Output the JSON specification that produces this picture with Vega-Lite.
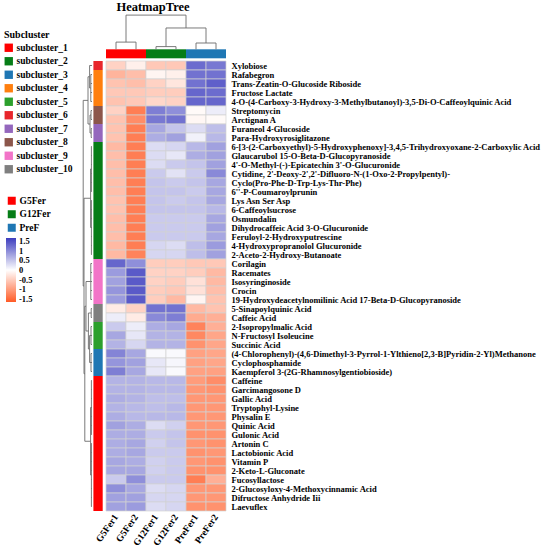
{
"$schema": "https://vega.github.io/schema/vega-lite/v6.json",
"width": 120, "height": 450,
"autosize": {"type": "none"},
"padding": {"left": 106, "top": 61, "right": 324, "bottom": 40},
"background": "white",
"config": {"view": {"stroke": null}, "font": "Liberation Serif"},
"title": {"text": "HeatmapTree", "font": "Liberation Serif", "fontSize": 12.5, "fontWeight": "bold", "frame": "group", "anchor": "middle", "dx": -13, "offset": 1, "color": "black"},
"datasets": {
"cells": [
{"compound":"Xylobiose","sample":"G5Fer1","value":-0.45},{"compound":"Xylobiose","sample":"G5Fer2","value":-0.15},{"compound":"Xylobiose","sample":"G12Fer1","value":-0.55},{"compound":"Xylobiose","sample":"G12Fer2","value":-0.55},{"compound":"Xylobiose","sample":"PreFer1","value":1.25},{"compound":"Xylobiose","sample":"PreFer2","value":1.15},
{"compound":"Rafabegron","sample":"G5Fer1","value":-0.75},{"compound":"Rafabegron","sample":"G5Fer2","value":-0.65},{"compound":"Rafabegron","sample":"G12Fer1","value":-0.1},{"compound":"Rafabegron","sample":"G12Fer2","value":-0.15},{"compound":"Rafabegron","sample":"PreFer1","value":1.2},{"compound":"Rafabegron","sample":"PreFer2","value":1.2},
{"compound":"Trans-Zeatin-O-Glucoside Riboside","sample":"G5Fer1","value":-0.6},{"compound":"Trans-Zeatin-O-Glucoside Riboside","sample":"G5Fer2","value":-0.65},{"compound":"Trans-Zeatin-O-Glucoside Riboside","sample":"G12Fer1","value":-0.45},{"compound":"Trans-Zeatin-O-Glucoside Riboside","sample":"G12Fer2","value":-0.25},{"compound":"Trans-Zeatin-O-Glucoside Riboside","sample":"PreFer1","value":1.2},{"compound":"Trans-Zeatin-O-Glucoside Riboside","sample":"PreFer2","value":1.35},
{"compound":"Fructose Lactate","sample":"G5Fer1","value":-0.55},{"compound":"Fructose Lactate","sample":"G5Fer2","value":-0.55},{"compound":"Fructose Lactate","sample":"G12Fer1","value":-0.5},{"compound":"Fructose Lactate","sample":"G12Fer2","value":-0.5},{"compound":"Fructose Lactate","sample":"PreFer1","value":1.3},{"compound":"Fructose Lactate","sample":"PreFer2","value":1.25},
{"compound":"4-O-(4-Carboxy-3-Hydroxy-3-Methylbutanoyl)-3,5-Di-O-Caffeoylquinic Acid","sample":"G5Fer1","value":-0.6},{"compound":"4-O-(4-Carboxy-3-Hydroxy-3-Methylbutanoyl)-3,5-Di-O-Caffeoylquinic Acid","sample":"G5Fer2","value":-0.55},{"compound":"4-O-(4-Carboxy-3-Hydroxy-3-Methylbutanoyl)-3,5-Di-O-Caffeoylquinic Acid","sample":"G12Fer1","value":-0.4},{"compound":"4-O-(4-Carboxy-3-Hydroxy-3-Methylbutanoyl)-3,5-Di-O-Caffeoylquinic Acid","sample":"G12Fer2","value":-0.45},{"compound":"4-O-(4-Carboxy-3-Hydroxy-3-Methylbutanoyl)-3,5-Di-O-Caffeoylquinic Acid","sample":"PreFer1","value":1.3},{"compound":"4-O-(4-Carboxy-3-Hydroxy-3-Methylbutanoyl)-3,5-Di-O-Caffeoylquinic Acid","sample":"PreFer2","value":1.3},
{"compound":"Streptomycin","sample":"G5Fer1","value":-0.45},{"compound":"Streptomycin","sample":"G5Fer2","value":-1.3},{"compound":"Streptomycin","sample":"G12Fer1","value":1.1},{"compound":"Streptomycin","sample":"G12Fer2","value":0.95},{"compound":"Streptomycin","sample":"PreFer1","value":-0.05},{"compound":"Streptomycin","sample":"PreFer2","value":0.15},
{"compound":"Arctignan A","sample":"G5Fer1","value":-0.6},{"compound":"Arctignan A","sample":"G5Fer2","value":-1.15},{"compound":"Arctignan A","sample":"G12Fer1","value":1.15},{"compound":"Arctignan A","sample":"G12Fer2","value":1.2},{"compound":"Arctignan A","sample":"PreFer1","value":-0.08},{"compound":"Arctignan A","sample":"PreFer2","value":-0.05},
{"compound":"Furaneol 4-Glucoside","sample":"G5Fer1","value":-0.6},{"compound":"Furaneol 4-Glucoside","sample":"G5Fer2","value":-1.3},{"compound":"Furaneol 4-Glucoside","sample":"G12Fer1","value":0.75},{"compound":"Furaneol 4-Glucoside","sample":"G12Fer2","value":0.5},{"compound":"Furaneol 4-Glucoside","sample":"PreFer1","value":0.3},{"compound":"Furaneol 4-Glucoside","sample":"PreFer2","value":0.55},
{"compound":"Para-Hydroxyrosiglitazone","sample":"G5Fer1","value":-0.6},{"compound":"Para-Hydroxyrosiglitazone","sample":"G5Fer2","value":-1.3},{"compound":"Para-Hydroxyrosiglitazone","sample":"G12Fer1","value":0.7},{"compound":"Para-Hydroxyrosiglitazone","sample":"G12Fer2","value":0.8},{"compound":"Para-Hydroxyrosiglitazone","sample":"PreFer1","value":0.12},{"compound":"Para-Hydroxyrosiglitazone","sample":"PreFer2","value":0.6},
{"compound":"6-[3-(2-Carboxyethyl)-5-Hydroxyphenoxy]-3,4,5-Trihydroxyoxane-2-Carboxylic Acid","sample":"G5Fer1","value":-0.7},{"compound":"6-[3-(2-Carboxyethyl)-5-Hydroxyphenoxy]-3,4,5-Trihydroxyoxane-2-Carboxylic Acid","sample":"G5Fer2","value":-1.3},{"compound":"6-[3-(2-Carboxyethyl)-5-Hydroxyphenoxy]-3,4,5-Trihydroxyoxane-2-Carboxylic Acid","sample":"G12Fer1","value":0.3},{"compound":"6-[3-(2-Carboxyethyl)-5-Hydroxyphenoxy]-3,4,5-Trihydroxyoxane-2-Carboxylic Acid","sample":"G12Fer2","value":0.35},{"compound":"6-[3-(2-Carboxyethyl)-5-Hydroxyphenoxy]-3,4,5-Trihydroxyoxane-2-Carboxylic Acid","sample":"PreFer1","value":0.6},{"compound":"6-[3-(2-Carboxyethyl)-5-Hydroxyphenoxy]-3,4,5-Trihydroxyoxane-2-Carboxylic Acid","sample":"PreFer2","value":0.8},
{"compound":"Glaucarubol 15-O-Beta-D-Glucopyranoside","sample":"G5Fer1","value":-0.65},{"compound":"Glaucarubol 15-O-Beta-D-Glucopyranoside","sample":"G5Fer2","value":-1.3},{"compound":"Glaucarubol 15-O-Beta-D-Glucopyranoside","sample":"G12Fer1","value":0.3},{"compound":"Glaucarubol 15-O-Beta-D-Glucopyranoside","sample":"G12Fer2","value":0.2},{"compound":"Glaucarubol 15-O-Beta-D-Glucopyranoside","sample":"PreFer1","value":0.7},{"compound":"Glaucarubol 15-O-Beta-D-Glucopyranoside","sample":"PreFer2","value":0.8},
{"compound":"4'-O-Methyl-(-)-Epicatechin 3'-O-Glucuronide","sample":"G5Fer1","value":-0.65},{"compound":"4'-O-Methyl-(-)-Epicatechin 3'-O-Glucuronide","sample":"G5Fer2","value":-1.3},{"compound":"4'-O-Methyl-(-)-Epicatechin 3'-O-Glucuronide","sample":"G12Fer1","value":0.3},{"compound":"4'-O-Methyl-(-)-Epicatechin 3'-O-Glucuronide","sample":"G12Fer2","value":0.45},{"compound":"4'-O-Methyl-(-)-Epicatechin 3'-O-Glucuronide","sample":"PreFer1","value":0.5},{"compound":"4'-O-Methyl-(-)-Epicatechin 3'-O-Glucuronide","sample":"PreFer2","value":0.8},
{"compound":"Cytidine, 2'-Deoxy-2',2'-Difluoro-N-(1-Oxo-2-Propylpentyl)-","sample":"G5Fer1","value":-0.65},{"compound":"Cytidine, 2'-Deoxy-2',2'-Difluoro-N-(1-Oxo-2-Propylpentyl)-","sample":"G5Fer2","value":-1.3},{"compound":"Cytidine, 2'-Deoxy-2',2'-Difluoro-N-(1-Oxo-2-Propylpentyl)-","sample":"G12Fer1","value":0.45},{"compound":"Cytidine, 2'-Deoxy-2',2'-Difluoro-N-(1-Oxo-2-Propylpentyl)-","sample":"G12Fer2","value":0.25},{"compound":"Cytidine, 2'-Deoxy-2',2'-Difluoro-N-(1-Oxo-2-Propylpentyl)-","sample":"PreFer1","value":0.45},{"compound":"Cytidine, 2'-Deoxy-2',2'-Difluoro-N-(1-Oxo-2-Propylpentyl)-","sample":"PreFer2","value":1.0},
{"compound":"Cyclo(Pro-Phe-D-Trp-Lys-Thr-Phe)","sample":"G5Fer1","value":-0.65},{"compound":"Cyclo(Pro-Phe-D-Trp-Lys-Thr-Phe)","sample":"G5Fer2","value":-1.3},{"compound":"Cyclo(Pro-Phe-D-Trp-Lys-Thr-Phe)","sample":"G12Fer1","value":0.5},{"compound":"Cyclo(Pro-Phe-D-Trp-Lys-Thr-Phe)","sample":"G12Fer2","value":0.45},{"compound":"Cyclo(Pro-Phe-D-Trp-Lys-Thr-Phe)","sample":"PreFer1","value":0.5},{"compound":"Cyclo(Pro-Phe-D-Trp-Lys-Thr-Phe)","sample":"PreFer2","value":0.75},
{"compound":"6''-P-Coumaroylprunin","sample":"G5Fer1","value":-0.65},{"compound":"6''-P-Coumaroylprunin","sample":"G5Fer2","value":-1.3},{"compound":"6''-P-Coumaroylprunin","sample":"G12Fer1","value":0.5},{"compound":"6''-P-Coumaroylprunin","sample":"G12Fer2","value":0.5},{"compound":"6''-P-Coumaroylprunin","sample":"PreFer1","value":0.45},{"compound":"6''-P-Coumaroylprunin","sample":"PreFer2","value":0.75},
{"compound":"Lys Asn Ser Asp","sample":"G5Fer1","value":-0.6},{"compound":"Lys Asn Ser Asp","sample":"G5Fer2","value":-1.3},{"compound":"Lys Asn Ser Asp","sample":"G12Fer1","value":0.5},{"compound":"Lys Asn Ser Asp","sample":"G12Fer2","value":0.45},{"compound":"Lys Asn Ser Asp","sample":"PreFer1","value":0.5},{"compound":"Lys Asn Ser Asp","sample":"PreFer2","value":0.75},
{"compound":"6-Caffeoylsucrose","sample":"G5Fer1","value":-0.6},{"compound":"6-Caffeoylsucrose","sample":"G5Fer2","value":-1.3},{"compound":"6-Caffeoylsucrose","sample":"G12Fer1","value":0.5},{"compound":"6-Caffeoylsucrose","sample":"G12Fer2","value":0.5},{"compound":"6-Caffeoylsucrose","sample":"PreFer1","value":0.5},{"compound":"6-Caffeoylsucrose","sample":"PreFer2","value":0.6},
{"compound":"Osmundalin","sample":"G5Fer1","value":-0.65},{"compound":"Osmundalin","sample":"G5Fer2","value":-1.3},{"compound":"Osmundalin","sample":"G12Fer1","value":0.45},{"compound":"Osmundalin","sample":"G12Fer2","value":0.45},{"compound":"Osmundalin","sample":"PreFer1","value":0.45},{"compound":"Osmundalin","sample":"PreFer2","value":0.75},
{"compound":"Dihydrocaffeic Acid 3-O-Glucuronide","sample":"G5Fer1","value":-0.65},{"compound":"Dihydrocaffeic Acid 3-O-Glucuronide","sample":"G5Fer2","value":-1.3},{"compound":"Dihydrocaffeic Acid 3-O-Glucuronide","sample":"G12Fer1","value":0.45},{"compound":"Dihydrocaffeic Acid 3-O-Glucuronide","sample":"G12Fer2","value":0.45},{"compound":"Dihydrocaffeic Acid 3-O-Glucuronide","sample":"PreFer1","value":0.45},{"compound":"Dihydrocaffeic Acid 3-O-Glucuronide","sample":"PreFer2","value":0.8},
{"compound":"Feruloyl-2-Hydroxyputrescine","sample":"G5Fer1","value":-0.65},{"compound":"Feruloyl-2-Hydroxyputrescine","sample":"G5Fer2","value":-1.3},{"compound":"Feruloyl-2-Hydroxyputrescine","sample":"G12Fer1","value":0.45},{"compound":"Feruloyl-2-Hydroxyputrescine","sample":"G12Fer2","value":0.45},{"compound":"Feruloyl-2-Hydroxyputrescine","sample":"PreFer1","value":0.45},{"compound":"Feruloyl-2-Hydroxyputrescine","sample":"PreFer2","value":0.75},
{"compound":"4-Hydroxypropranolol Glucuronide","sample":"G5Fer1","value":-0.7},{"compound":"4-Hydroxypropranolol Glucuronide","sample":"G5Fer2","value":-1.3},{"compound":"4-Hydroxypropranolol Glucuronide","sample":"G12Fer1","value":0.35},{"compound":"4-Hydroxypropranolol Glucuronide","sample":"G12Fer2","value":0.3},{"compound":"4-Hydroxypropranolol Glucuronide","sample":"PreFer1","value":0.55},{"compound":"4-Hydroxypropranolol Glucuronide","sample":"PreFer2","value":0.85},
{"compound":"2-Aceto-2-Hydroxy-Butanoate","sample":"G5Fer1","value":-0.7},{"compound":"2-Aceto-2-Hydroxy-Butanoate","sample":"G5Fer2","value":-1.25},{"compound":"2-Aceto-2-Hydroxy-Butanoate","sample":"G12Fer1","value":0.35},{"compound":"2-Aceto-2-Hydroxy-Butanoate","sample":"G12Fer2","value":0.35},{"compound":"2-Aceto-2-Hydroxy-Butanoate","sample":"PreFer1","value":0.55},{"compound":"2-Aceto-2-Hydroxy-Butanoate","sample":"PreFer2","value":0.8},
{"compound":"Corilagin","sample":"G5Fer1","value":1.3},{"compound":"Corilagin","sample":"G5Fer2","value":0.95},{"compound":"Corilagin","sample":"G12Fer1","value":-0.5},{"compound":"Corilagin","sample":"G12Fer2","value":-0.5},{"compound":"Corilagin","sample":"PreFer1","value":-0.55},{"compound":"Corilagin","sample":"PreFer2","value":-0.55},
{"compound":"Racemates","sample":"G5Fer1","value":0.85},{"compound":"Racemates","sample":"G5Fer2","value":1.4},{"compound":"Racemates","sample":"G12Fer1","value":-0.45},{"compound":"Racemates","sample":"G12Fer2","value":-0.45},{"compound":"Racemates","sample":"PreFer1","value":-0.5},{"compound":"Racemates","sample":"PreFer2","value":-0.7},
{"compound":"Isosyringinoside","sample":"G5Fer1","value":0.8},{"compound":"Isosyringinoside","sample":"G5Fer2","value":1.4},{"compound":"Isosyringinoside","sample":"G12Fer1","value":-0.45},{"compound":"Isosyringinoside","sample":"G12Fer2","value":-0.5},{"compound":"Isosyringinoside","sample":"PreFer1","value":-0.3},{"compound":"Isosyringinoside","sample":"PreFer2","value":-0.7},
{"compound":"Crocin","sample":"G5Fer1","value":0.9},{"compound":"Crocin","sample":"G5Fer2","value":1.4},{"compound":"Crocin","sample":"G12Fer1","value":-0.5},{"compound":"Crocin","sample":"G12Fer2","value":-0.55},{"compound":"Crocin","sample":"PreFer1","value":-0.3},{"compound":"Crocin","sample":"PreFer2","value":-0.65},
{"compound":"19-Hydroxydeacetylnomilinic Acid 17-Beta-D-Glucopyranoside","sample":"G5Fer1","value":0.85},{"compound":"19-Hydroxydeacetylnomilinic Acid 17-Beta-D-Glucopyranoside","sample":"G5Fer2","value":1.4},{"compound":"19-Hydroxydeacetylnomilinic Acid 17-Beta-D-Glucopyranoside","sample":"G12Fer1","value":-0.5},{"compound":"19-Hydroxydeacetylnomilinic Acid 17-Beta-D-Glucopyranoside","sample":"G12Fer2","value":-0.7},{"compound":"19-Hydroxydeacetylnomilinic Acid 17-Beta-D-Glucopyranoside","sample":"PreFer1","value":-0.1},{"compound":"19-Hydroxydeacetylnomilinic Acid 17-Beta-D-Glucopyranoside","sample":"PreFer2","value":-0.6},
{"compound":"5-Sinapoylquinic Acid","sample":"G5Fer1","value":-0.2},{"compound":"5-Sinapoylquinic Acid","sample":"G5Fer2","value":-0.45},{"compound":"5-Sinapoylquinic Acid","sample":"G12Fer1","value":1.2},{"compound":"5-Sinapoylquinic Acid","sample":"G12Fer2","value":1.2},{"compound":"5-Sinapoylquinic Acid","sample":"PreFer1","value":-0.7},{"compound":"5-Sinapoylquinic Acid","sample":"PreFer2","value":-0.6},
{"compound":"Caffeic Acid","sample":"G5Fer1","value":0.15},{"compound":"Caffeic Acid","sample":"G5Fer2","value":-0.2},{"compound":"Caffeic Acid","sample":"G12Fer1","value":1.0},{"compound":"Caffeic Acid","sample":"G12Fer2","value":1.1},{"compound":"Caffeic Acid","sample":"PreFer1","value":-0.85},{"compound":"Caffeic Acid","sample":"PreFer2","value":-0.8},
{"compound":"2-Isopropylmalic Acid","sample":"G5Fer1","value":0.45},{"compound":"2-Isopropylmalic Acid","sample":"G5Fer2","value":0.15},{"compound":"2-Isopropylmalic Acid","sample":"G12Fer1","value":0.7},{"compound":"2-Isopropylmalic Acid","sample":"G12Fer2","value":0.75},{"compound":"2-Isopropylmalic Acid","sample":"PreFer1","value":-1.25},{"compound":"2-Isopropylmalic Acid","sample":"PreFer2","value":-0.8},
{"compound":"N-Fructosyl Isoleucine","sample":"G5Fer1","value":0.75},{"compound":"N-Fructosyl Isoleucine","sample":"G5Fer2","value":0.2},{"compound":"N-Fructosyl Isoleucine","sample":"G12Fer1","value":0.65},{"compound":"N-Fructosyl Isoleucine","sample":"G12Fer2","value":0.65},{"compound":"N-Fructosyl Isoleucine","sample":"PreFer1","value":-1.2},{"compound":"N-Fructosyl Isoleucine","sample":"PreFer2","value":-0.9},
{"compound":"Succinic Acid","sample":"G5Fer1","value":0.65},{"compound":"Succinic Acid","sample":"G5Fer2","value":0.35},{"compound":"Succinic Acid","sample":"G12Fer1","value":0.65},{"compound":"Succinic Acid","sample":"G12Fer2","value":0.65},{"compound":"Succinic Acid","sample":"PreFer1","value":-1.1},{"compound":"Succinic Acid","sample":"PreFer2","value":-0.9},
{"compound":"(4-Chlorophenyl)-(4,6-Dimethyl-3-Pyrrol-1-Ylthieno[2,3-B]Pyridin-2-Yl)Methanone","sample":"G5Fer1","value":1.05},{"compound":"(4-Chlorophenyl)-(4,6-Dimethyl-3-Pyrrol-1-Ylthieno[2,3-B]Pyridin-2-Yl)Methanone","sample":"G5Fer2","value":0.75},{"compound":"(4-Chlorophenyl)-(4,6-Dimethyl-3-Pyrrol-1-Ylthieno[2,3-B]Pyridin-2-Yl)Methanone","sample":"G12Fer1","value":0.05},{"compound":"(4-Chlorophenyl)-(4,6-Dimethyl-3-Pyrrol-1-Ylthieno[2,3-B]Pyridin-2-Yl)Methanone","sample":"G12Fer2","value":0.05},{"compound":"(4-Chlorophenyl)-(4,6-Dimethyl-3-Pyrrol-1-Ylthieno[2,3-B]Pyridin-2-Yl)Methanone","sample":"PreFer1","value":-0.95},{"compound":"(4-Chlorophenyl)-(4,6-Dimethyl-3-Pyrrol-1-Ylthieno[2,3-B]Pyridin-2-Yl)Methanone","sample":"PreFer2","value":-0.9},
{"compound":"Cyclophosphamide","sample":"G5Fer1","value":0.9},{"compound":"Cyclophosphamide","sample":"G5Fer2","value":0.8},{"compound":"Cyclophosphamide","sample":"G12Fer1","value":0.2},{"compound":"Cyclophosphamide","sample":"G12Fer2","value":0.08},{"compound":"Cyclophosphamide","sample":"PreFer1","value":-0.95},{"compound":"Cyclophosphamide","sample":"PreFer2","value":-0.9},
{"compound":"Kaempferol 3-(2G-Rhamnosylgentiobioside)","sample":"G5Fer1","value":1.1},{"compound":"Kaempferol 3-(2G-Rhamnosylgentiobioside)","sample":"G5Fer2","value":0.75},{"compound":"Kaempferol 3-(2G-Rhamnosylgentiobioside)","sample":"G12Fer1","value":0.2},{"compound":"Kaempferol 3-(2G-Rhamnosylgentiobioside)","sample":"G12Fer2","value":0.05},{"compound":"Kaempferol 3-(2G-Rhamnosylgentiobioside)","sample":"PreFer1","value":-0.95},{"compound":"Kaempferol 3-(2G-Rhamnosylgentiobioside)","sample":"PreFer2","value":-0.95},
{"compound":"Caffeine","sample":"G5Fer1","value":0.65},{"compound":"Caffeine","sample":"G5Fer2","value":0.65},{"compound":"Caffeine","sample":"G12Fer1","value":0.6},{"compound":"Caffeine","sample":"G12Fer2","value":0.6},{"compound":"Caffeine","sample":"PreFer1","value":-1.0},{"compound":"Caffeine","sample":"PreFer2","value":-1.15},
{"compound":"Garcimangosone D","sample":"G5Fer1","value":0.65},{"compound":"Garcimangosone D","sample":"G5Fer2","value":0.65},{"compound":"Garcimangosone D","sample":"G12Fer1","value":0.6},{"compound":"Garcimangosone D","sample":"G12Fer2","value":0.6},{"compound":"Garcimangosone D","sample":"PreFer1","value":-1.05},{"compound":"Garcimangosone D","sample":"PreFer2","value":-1.1},
{"compound":"Gallic Acid","sample":"G5Fer1","value":0.7},{"compound":"Gallic Acid","sample":"G5Fer2","value":0.65},{"compound":"Gallic Acid","sample":"G12Fer1","value":0.55},{"compound":"Gallic Acid","sample":"G12Fer2","value":0.55},{"compound":"Gallic Acid","sample":"PreFer1","value":-1.05},{"compound":"Gallic Acid","sample":"PreFer2","value":-1.05},
{"compound":"Tryptophyl-Lysine","sample":"G5Fer1","value":0.65},{"compound":"Tryptophyl-Lysine","sample":"G5Fer2","value":0.6},{"compound":"Tryptophyl-Lysine","sample":"G12Fer1","value":0.55},{"compound":"Tryptophyl-Lysine","sample":"G12Fer2","value":0.6},{"compound":"Tryptophyl-Lysine","sample":"PreFer1","value":-1.05},{"compound":"Tryptophyl-Lysine","sample":"PreFer2","value":-1.05},
{"compound":"Physalin E","sample":"G5Fer1","value":0.7},{"compound":"Physalin E","sample":"G5Fer2","value":0.6},{"compound":"Physalin E","sample":"G12Fer1","value":0.6},{"compound":"Physalin E","sample":"G12Fer2","value":0.6},{"compound":"Physalin E","sample":"PreFer1","value":-1.05},{"compound":"Physalin E","sample":"PreFer2","value":-1.05},
{"compound":"Quinic Acid","sample":"G5Fer1","value":0.8},{"compound":"Quinic Acid","sample":"G5Fer2","value":0.7},{"compound":"Quinic Acid","sample":"G12Fer1","value":0.3},{"compound":"Quinic Acid","sample":"G12Fer2","value":0.4},{"compound":"Quinic Acid","sample":"PreFer1","value":-1.05},{"compound":"Quinic Acid","sample":"PreFer2","value":-1.05},
{"compound":"Gulonic Acid","sample":"G5Fer1","value":0.7},{"compound":"Gulonic Acid","sample":"G5Fer2","value":0.7},{"compound":"Gulonic Acid","sample":"G12Fer1","value":0.45},{"compound":"Gulonic Acid","sample":"G12Fer2","value":0.5},{"compound":"Gulonic Acid","sample":"PreFer1","value":-1.1},{"compound":"Gulonic Acid","sample":"PreFer2","value":-1.1},
{"compound":"Artonin C","sample":"G5Fer1","value":0.7},{"compound":"Artonin C","sample":"G5Fer2","value":0.75},{"compound":"Artonin C","sample":"G12Fer1","value":0.4},{"compound":"Artonin C","sample":"G12Fer2","value":0.5},{"compound":"Artonin C","sample":"PreFer1","value":-1.05},{"compound":"Artonin C","sample":"PreFer2","value":-1.1},
{"compound":"Lactobionic Acid","sample":"G5Fer1","value":0.7},{"compound":"Lactobionic Acid","sample":"G5Fer2","value":0.75},{"compound":"Lactobionic Acid","sample":"G12Fer1","value":0.45},{"compound":"Lactobionic Acid","sample":"G12Fer2","value":0.45},{"compound":"Lactobionic Acid","sample":"PreFer1","value":-1.1},{"compound":"Lactobionic Acid","sample":"PreFer2","value":-1.05},
{"compound":"Vitamin P","sample":"G5Fer1","value":0.75},{"compound":"Vitamin P","sample":"G5Fer2","value":0.7},{"compound":"Vitamin P","sample":"G12Fer1","value":0.4},{"compound":"Vitamin P","sample":"G12Fer2","value":0.45},{"compound":"Vitamin P","sample":"PreFer1","value":-1.05},{"compound":"Vitamin P","sample":"PreFer2","value":-1.1},
{"compound":"2-Keto-L-Gluconate","sample":"G5Fer1","value":0.75},{"compound":"2-Keto-L-Gluconate","sample":"G5Fer2","value":0.75},{"compound":"2-Keto-L-Gluconate","sample":"G12Fer1","value":0.4},{"compound":"2-Keto-L-Gluconate","sample":"G12Fer2","value":0.45},{"compound":"2-Keto-L-Gluconate","sample":"PreFer1","value":-1.1},{"compound":"2-Keto-L-Gluconate","sample":"PreFer2","value":-1.1},
{"compound":"Fucosyllactose","sample":"G5Fer1","value":0.45},{"compound":"Fucosyllactose","sample":"G5Fer2","value":0.95},{"compound":"Fucosyllactose","sample":"G12Fer1","value":0.45},{"compound":"Fucosyllactose","sample":"G12Fer2","value":0.45},{"compound":"Fucosyllactose","sample":"PreFer1","value":-1.3},{"compound":"Fucosyllactose","sample":"PreFer2","value":-0.8},
{"compound":"2-Glucosyloxy-4-Methoxycinnamic Acid","sample":"G5Fer1","value":0.95},{"compound":"2-Glucosyloxy-4-Methoxycinnamic Acid","sample":"G5Fer2","value":0.75},{"compound":"2-Glucosyloxy-4-Methoxycinnamic Acid","sample":"G12Fer1","value":0.3},{"compound":"2-Glucosyloxy-4-Methoxycinnamic Acid","sample":"G12Fer2","value":0.35},{"compound":"2-Glucosyloxy-4-Methoxycinnamic Acid","sample":"PreFer1","value":-1.05},{"compound":"2-Glucosyloxy-4-Methoxycinnamic Acid","sample":"PreFer2","value":-1.05},
{"compound":"Difructose Anhydride Iii","sample":"G5Fer1","value":0.8},{"compound":"Difructose Anhydride Iii","sample":"G5Fer2","value":0.8},{"compound":"Difructose Anhydride Iii","sample":"G12Fer1","value":0.35},{"compound":"Difructose Anhydride Iii","sample":"G12Fer2","value":0.35},{"compound":"Difructose Anhydride Iii","sample":"PreFer1","value":-1.05},{"compound":"Difructose Anhydride Iii","sample":"PreFer2","value":-1.05},
{"compound":"Laevuflex","sample":"G5Fer1","value":0.8},{"compound":"Laevuflex","sample":"G5Fer2","value":0.85},{"compound":"Laevuflex","sample":"G12Fer1","value":0.3},{"compound":"Laevuflex","sample":"G12Fer2","value":0.35},{"compound":"Laevuflex","sample":"PreFer1","value":-1.1},{"compound":"Laevuflex","sample":"PreFer2","value":-1.1}
],
"compounds": [
{"compound":"Xylobiose","subcluster":"subcluster_6"},
{"compound":"Rafabegron","subcluster":"subcluster_4"},
{"compound":"Trans-Zeatin-O-Glucoside Riboside","subcluster":"subcluster_4"},
{"compound":"Fructose Lactate","subcluster":"subcluster_4"},
{"compound":"4-O-(4-Carboxy-3-Hydroxy-3-Methylbutanoyl)-3,5-Di-O-Caffeoylquinic Acid","subcluster":"subcluster_4"},
{"compound":"Streptomycin","subcluster":"subcluster_8"},
{"compound":"Arctignan A","subcluster":"subcluster_8"},
{"compound":"Furaneol 4-Glucoside","subcluster":"subcluster_7"},
{"compound":"Para-Hydroxyrosiglitazone","subcluster":"subcluster_7"},
{"compound":"6-[3-(2-Carboxyethyl)-5-Hydroxyphenoxy]-3,4,5-Trihydroxyoxane-2-Carboxylic Acid","subcluster":"subcluster_2"},
{"compound":"Glaucarubol 15-O-Beta-D-Glucopyranoside","subcluster":"subcluster_2"},
{"compound":"4'-O-Methyl-(-)-Epicatechin 3'-O-Glucuronide","subcluster":"subcluster_2"},
{"compound":"Cytidine, 2'-Deoxy-2',2'-Difluoro-N-(1-Oxo-2-Propylpentyl)-","subcluster":"subcluster_2"},
{"compound":"Cyclo(Pro-Phe-D-Trp-Lys-Thr-Phe)","subcluster":"subcluster_2"},
{"compound":"6''-P-Coumaroylprunin","subcluster":"subcluster_2"},
{"compound":"Lys Asn Ser Asp","subcluster":"subcluster_2"},
{"compound":"6-Caffeoylsucrose","subcluster":"subcluster_2"},
{"compound":"Osmundalin","subcluster":"subcluster_2"},
{"compound":"Dihydrocaffeic Acid 3-O-Glucuronide","subcluster":"subcluster_2"},
{"compound":"Feruloyl-2-Hydroxyputrescine","subcluster":"subcluster_2"},
{"compound":"4-Hydroxypropranolol Glucuronide","subcluster":"subcluster_2"},
{"compound":"2-Aceto-2-Hydroxy-Butanoate","subcluster":"subcluster_2"},
{"compound":"Corilagin","subcluster":"subcluster_9"},
{"compound":"Racemates","subcluster":"subcluster_9"},
{"compound":"Isosyringinoside","subcluster":"subcluster_9"},
{"compound":"Crocin","subcluster":"subcluster_9"},
{"compound":"19-Hydroxydeacetylnomilinic Acid 17-Beta-D-Glucopyranoside","subcluster":"subcluster_9"},
{"compound":"5-Sinapoylquinic Acid","subcluster":"subcluster_10"},
{"compound":"Caffeic Acid","subcluster":"subcluster_10"},
{"compound":"2-Isopropylmalic Acid","subcluster":"subcluster_5"},
{"compound":"N-Fructosyl Isoleucine","subcluster":"subcluster_5"},
{"compound":"Succinic Acid","subcluster":"subcluster_5"},
{"compound":"(4-Chlorophenyl)-(4,6-Dimethyl-3-Pyrrol-1-Ylthieno[2,3-B]Pyridin-2-Yl)Methanone","subcluster":"subcluster_3"},
{"compound":"Cyclophosphamide","subcluster":"subcluster_3"},
{"compound":"Kaempferol 3-(2G-Rhamnosylgentiobioside)","subcluster":"subcluster_3"},
{"compound":"Caffeine","subcluster":"subcluster_1"},
{"compound":"Garcimangosone D","subcluster":"subcluster_1"},
{"compound":"Gallic Acid","subcluster":"subcluster_1"},
{"compound":"Tryptophyl-Lysine","subcluster":"subcluster_1"},
{"compound":"Physalin E","subcluster":"subcluster_1"},
{"compound":"Quinic Acid","subcluster":"subcluster_1"},
{"compound":"Gulonic Acid","subcluster":"subcluster_1"},
{"compound":"Artonin C","subcluster":"subcluster_1"},
{"compound":"Lactobionic Acid","subcluster":"subcluster_1"},
{"compound":"Vitamin P","subcluster":"subcluster_1"},
{"compound":"2-Keto-L-Gluconate","subcluster":"subcluster_1"},
{"compound":"Fucosyllactose","subcluster":"subcluster_1"},
{"compound":"2-Glucosyloxy-4-Methoxycinnamic Acid","subcluster":"subcluster_1"},
{"compound":"Difructose Anhydride Iii","subcluster":"subcluster_1"},
{"compound":"Laevuflex","subcluster":"subcluster_1"}
],
"groups": [
{"sample":"G5Fer1","group":"G5Fer"},{"sample":"G5Fer2","group":"G5Fer"},
{"sample":"G12Fer1","group":"G12Fer"},{"sample":"G12Fer2","group":"G12Fer"},
{"sample":"PreFer1","group":"PreF"},{"sample":"PreFer2","group":"PreF"}
],
"colTree": [
{"x1":0.5,"x2":0.5,"y1":-1.3,"y2":-2.1},{"x1":1.5,"x2":1.5,"y1":-1.3,"y2":-2.1},{"x1":0.5,"x2":1.5,"y1":-2.1,"y2":-2.1},
{"x1":2.5,"x2":2.5,"y1":-1.3,"y2":-1.6},{"x1":3.5,"x2":3.5,"y1":-1.3,"y2":-1.6},{"x1":2.5,"x2":3.5,"y1":-1.6,"y2":-1.6},
{"x1":4.5,"x2":4.5,"y1":-1.3,"y2":-2.0},{"x1":5.5,"x2":5.5,"y1":-1.3,"y2":-2.0},{"x1":4.5,"x2":5.5,"y1":-2.0,"y2":-2.0},
{"x1":3.0,"x2":3.0,"y1":-1.6,"y2":-3.67},{"x1":5.0,"x2":5.0,"y1":-2.0,"y2":-3.67},{"x1":3.0,"x2":5.0,"y1":-3.67,"y2":-3.67},
{"x1":1.0,"x2":1.0,"y1":-2.1,"y2":-5.1},{"x1":4.0,"x2":4.0,"y1":-3.67,"y2":-5.1},{"x1":1.0,"x2":4.0,"y1":-5.1,"y2":-5.1}
],
"rowTree": [
{"x1":-0.70,"x2":-0.76,"y1":1.5,"y2":1.5},{"x1":-0.70,"x2":-0.76,"y1":2.5,"y2":2.5},{"x1":-0.70,"x2":-0.76,"y1":3.5,"y2":3.5},{"x1":-0.70,"x2":-0.76,"y1":4.5,"y2":4.5},
{"x1":-0.70,"x2":-0.75,"y1":5.5,"y2":5.5},{"x1":-0.70,"x2":-0.75,"y1":6.5,"y2":6.5},
{"x1":-0.70,"x2":-0.74,"y1":7.5,"y2":7.5},{"x1":-0.70,"x2":-0.74,"y1":8.5,"y2":8.5},
{"x1":-0.70,"x2":-0.73,"y1":9.5,"y2":9.5},{"x1":-0.70,"x2":-0.73,"y1":10.5,"y2":10.5},{"x1":-0.70,"x2":-0.73,"y1":11.5,"y2":11.5},{"x1":-0.70,"x2":-0.73,"y1":12.5,"y2":12.5},{"x1":-0.70,"x2":-0.73,"y1":13.5,"y2":13.5},{"x1":-0.70,"x2":-0.73,"y1":14.5,"y2":14.5},
{"x1":-0.70,"x2":-0.73,"y1":15.5,"y2":15.5},{"x1":-0.70,"x2":-0.73,"y1":16.5,"y2":16.5},{"x1":-0.70,"x2":-0.73,"y1":17.5,"y2":17.5},{"x1":-0.70,"x2":-0.73,"y1":18.5,"y2":18.5},{"x1":-0.70,"x2":-0.73,"y1":19.5,"y2":19.5},{"x1":-0.70,"x2":-0.73,"y1":20.5,"y2":20.5},{"x1":-0.70,"x2":-0.73,"y1":21.5,"y2":21.5},
{"x1":-0.70,"x2":-0.76,"y1":22.5,"y2":22.5},{"x1":-0.70,"x2":-0.76,"y1":23.5,"y2":23.5},{"x1":-0.70,"x2":-0.76,"y1":24.5,"y2":24.5},{"x1":-0.70,"x2":-0.76,"y1":25.5,"y2":25.5},{"x1":-0.70,"x2":-0.76,"y1":26.5,"y2":26.5},
{"x1":-0.70,"x2":-0.74,"y1":27.5,"y2":27.5},{"x1":-0.70,"x2":-0.74,"y1":28.5,"y2":28.5},
{"x1":-0.70,"x2":-0.75,"y1":29.5,"y2":29.5},{"x1":-0.70,"x2":-0.75,"y1":30.5,"y2":30.5},{"x1":-0.70,"x2":-0.75,"y1":31.5,"y2":31.5},
{"x1":-0.70,"x2":-0.75,"y1":32.5,"y2":32.5},{"x1":-0.70,"x2":-0.75,"y1":33.5,"y2":33.5},{"x1":-0.70,"x2":-0.75,"y1":34.5,"y2":34.5},
{"x1":-0.70,"x2":-0.73,"y1":35.5,"y2":35.5},{"x1":-0.70,"x2":-0.73,"y1":36.5,"y2":36.5},{"x1":-0.70,"x2":-0.73,"y1":37.5,"y2":37.5},{"x1":-0.70,"x2":-0.73,"y1":38.5,"y2":38.5},{"x1":-0.70,"x2":-0.73,"y1":39.5,"y2":39.5},{"x1":-0.70,"x2":-0.73,"y1":40.5,"y2":40.5},{"x1":-0.70,"x2":-0.73,"y1":41.5,"y2":41.5},
{"x1":-0.70,"x2":-0.73,"y1":42.5,"y2":42.5},{"x1":-0.70,"x2":-0.73,"y1":43.5,"y2":43.5},{"x1":-0.70,"x2":-0.73,"y1":44.5,"y2":44.5},{"x1":-0.70,"x2":-0.73,"y1":45.5,"y2":45.5},{"x1":-0.70,"x2":-0.73,"y1":46.5,"y2":46.5},{"x1":-0.70,"x2":-0.73,"y1":47.5,"y2":47.5},{"x1":-0.70,"x2":-0.73,"y1":48.5,"y2":48.5},{"x1":-0.70,"x2":-0.73,"y1":49.5,"y2":49.5},
{"x1":-0.76,"x2":-0.76,"y1":1.5,"y2":4.5},{"x1":-0.75,"x2":-0.75,"y1":5.5,"y2":6.5},{"x1":-0.74,"x2":-0.74,"y1":7.5,"y2":8.5},{"x1":-0.73,"x2":-0.73,"y1":9.5,"y2":14.5},{"x1":-0.73,"x2":-0.73,"y1":15.5,"y2":21.5},{"x1":-0.76,"x2":-0.76,"y1":22.5,"y2":26.5},{"x1":-0.74,"x2":-0.74,"y1":27.5,"y2":28.5},{"x1":-0.75,"x2":-0.75,"y1":29.5,"y2":31.5},{"x1":-0.75,"x2":-0.75,"y1":32.5,"y2":34.5},{"x1":-0.73,"x2":-0.73,"y1":35.5,"y2":41.5},{"x1":-0.73,"x2":-0.73,"y1":42.5,"y2":49.5},
{"x1":-0.70,"x2":-0.82,"y1":0.5,"y2":0.5},{"x1":-0.76,"x2":-0.82,"y1":3.0,"y2":3.0},{"x1":-0.82,"x2":-0.82,"y1":0.5,"y2":3.0},
{"x1":-0.75,"x2":-0.80,"y1":6.0,"y2":6.0},{"x1":-0.74,"x2":-0.80,"y1":8.0,"y2":8.0},{"x1":-0.80,"x2":-0.80,"y1":6.0,"y2":8.0},
{"x1":-0.82,"x2":-0.90,"y1":1.75,"y2":1.75},{"x1":-0.80,"x2":-0.90,"y1":7.0,"y2":7.0},{"x1":-0.90,"x2":-0.90,"y1":1.75,"y2":7.0},
{"x1":-0.73,"x2":-0.77,"y1":12.0,"y2":12.0},{"x1":-0.73,"x2":-0.77,"y1":18.5,"y2":18.5},{"x1":-0.77,"x2":-0.77,"y1":12.0,"y2":18.5},
{"x1":-0.75,"x2":-0.82,"y1":30.5,"y2":30.5},{"x1":-0.75,"x2":-0.82,"y1":33.5,"y2":33.5},{"x1":-0.82,"x2":-0.82,"y1":30.5,"y2":33.5},
{"x1":-0.74,"x2":-0.88,"y1":28.0,"y2":28.0},{"x1":-0.82,"x2":-0.88,"y1":32.0,"y2":32.0},{"x1":-0.88,"x2":-0.88,"y1":28.0,"y2":32.0},
{"x1":-0.76,"x2":-1.0,"y1":24.5,"y2":24.5},{"x1":-0.88,"x2":-1.0,"y1":30.0,"y2":30.0},{"x1":-1.0,"x2":-1.0,"y1":24.5,"y2":30.0},
{"x1":-0.73,"x2":-0.77,"y1":38.5,"y2":38.5},{"x1":-0.73,"x2":-0.77,"y1":46.0,"y2":46.0},{"x1":-0.77,"x2":-0.77,"y1":38.5,"y2":46.0},
{"x1":-1.0,"x2":-1.06,"y1":27.25,"y2":27.25},{"x1":-0.77,"x2":-1.06,"y1":42.25,"y2":42.25},{"x1":-1.06,"x2":-1.06,"y1":27.25,"y2":42.25},
{"x1":-0.77,"x2":-1.10,"y1":15.25,"y2":15.25},{"x1":-1.06,"x2":-1.10,"y1":34.75,"y2":34.75},{"x1":-1.10,"x2":-1.10,"y1":15.25,"y2":34.75},
{"x1":-0.90,"x2":-1.14,"y1":4.375,"y2":4.375},{"x1":-1.10,"x2":-1.14,"y1":25.0,"y2":25.0},{"x1":-1.14,"x2":-1.14,"y1":4.375,"y2":25.0}
]
},
"layer": [
{
"data": {"name": "cells"},
"mark": {"type": "rect", "stroke": "#d2d2d2", "strokeWidth": 0.7},
"encoding": {
"x": {"field": "sample", "type": "nominal", "sort": null,
"axis": {"orient": "bottom", "title": null, "ticks": false, "domain": false, "labelAngle": -55, "labelFont": "Liberation Serif", "labelFontWeight": "bold", "labelFontSize": 9.5, "labelPadding": 4, "labelColor": "black"}},
"y": {"field": "compound", "type": "nominal", "sort": null,
"axis": {"orient": "right", "title": null, "ticks": false, "domain": false, "labelFont": "Liberation Serif", "labelFontWeight": "bold", "labelFontSize": 8.5, "labelPadding": 5, "labelLimit": 400, "labelOverlap": false, "labelColor": "black"}},
"color": {"field": "value", "type": "quantitative",
"scale": {"domain": [-1.65, 0, 1.65], "range": ["#FF5B26", "#FFFFFF", "#3D3DBE"], "clamp": true, "interpolate": "rgb"},
"legend": {"orient": "none", "legendX": -100, "legendY": 177, "title": null, "direction": "vertical", "gradientLength": 64, "gradientThickness": 10, "gradientStrokeWidth": 0, "values": [-1.5, -1, -0.5, 0, 0.5, 1, 1.5], "labelFont": "Liberation Serif", "labelFontWeight": "bold", "labelFontSize": 8.5, "labelOverlap": false, "labelOffset": 3, "labelColor": "black", "labelExpr": "datum.value < 0 ? '-' + format(-datum.value, '~g') : format(datum.value, '~g')"}}
}
},
{
"data": {"name": "groups"},
"mark": {"type": "rect"},
"encoding": {
"x": {"field": "sample", "type": "nominal", "sort": null, "axis": null},
"y": {"datum": -1.3, "type": "quantitative", "scale": {"domain": [0, 50], "reverse": true, "nice": false, "zero": false}, "axis": null},
"y2": {"datum": -0.3},
"color": {"field": "group", "type": "nominal",
"scale": {"domain": ["G5Fer", "G12Fer", "PreF"], "range": ["#FF0000", "#067D17", "#1F77B4"]},
"legend": {"orient": "none", "legendX": -99, "legendY": 135, "title": null, "symbolType": "square", "symbolSize": 64, "symbolStrokeWidth": 0, "labelFont": "Liberation Serif", "labelFontWeight": "bold", "labelFontSize": 9.5, "labelColor": "black", "rowPadding": 2.5, "labelOffset": 3}}
}
},
{
"data": {"name": "compounds"},
"mark": {"type": "rect"},
"encoding": {
"y": {"field": "compound", "type": "nominal", "sort": null, "axis": null},
"x": {"datum": -0.63, "type": "quantitative", "scale": {"domain": [0, 6], "nice": false, "zero": false}, "axis": null},
"x2": {"datum": -0.165},
"color": {"field": "subcluster", "type": "nominal",
"scale": {"domain": ["subcluster_1", "subcluster_2", "subcluster_3", "subcluster_4", "subcluster_5", "subcluster_6", "subcluster_7", "subcluster_8", "subcluster_9", "subcluster_10"], "range": ["#FF0000", "#067D17", "#1F77B4", "#FF7F0E", "#2CA02C", "#E8262C", "#9467BD", "#8C564B", "#F274C8", "#7F7F7F"]},
"legend": {"orient": "none", "legendX": -102, "legendY": -31, "title": "Subcluster", "titleFont": "Liberation Serif", "titleFontWeight": "bold", "titleFontSize": 10, "titleColor": "black", "titlePadding": 3, "symbolType": "square", "symbolSize": 70, "symbolStrokeWidth": 0, "labelFont": "Liberation Serif", "labelFontWeight": "bold", "labelFontSize": 9.5, "labelColor": "black", "rowPadding": 2.5, "labelOffset": 3}}
}
},
{
"data": {"name": "colTree"},
"mark": {"type": "rule", "color": "#6b6b6b", "strokeWidth": 0.9},
"encoding": {
"x": {"field": "x1", "type": "quantitative", "scale": {"domain": [0, 6], "nice": false, "zero": false}, "axis": null},
"x2": {"field": "x2"},
"y": {"field": "y1", "type": "quantitative", "scale": {"domain": [0, 50], "reverse": true, "nice": false, "zero": false}, "axis": null},
"y2": {"field": "y2"}
}
},
{
"data": {"name": "rowTree"},
"mark": {"type": "rule", "color": "#6b6b6b", "strokeWidth": 0.9},
"encoding": {
"x": {"field": "x1", "type": "quantitative", "scale": {"domain": [0, 6], "nice": false, "zero": false}, "axis": null},
"x2": {"field": "x2"},
"y": {"field": "y1", "type": "quantitative", "scale": {"domain": [0, 50], "reverse": true, "nice": false, "zero": false}, "axis": null},
"y2": {"field": "y2"}
}
}
],
"resolve": {"scale": {"x": "independent", "y": "independent", "color": "independent"}}
}
